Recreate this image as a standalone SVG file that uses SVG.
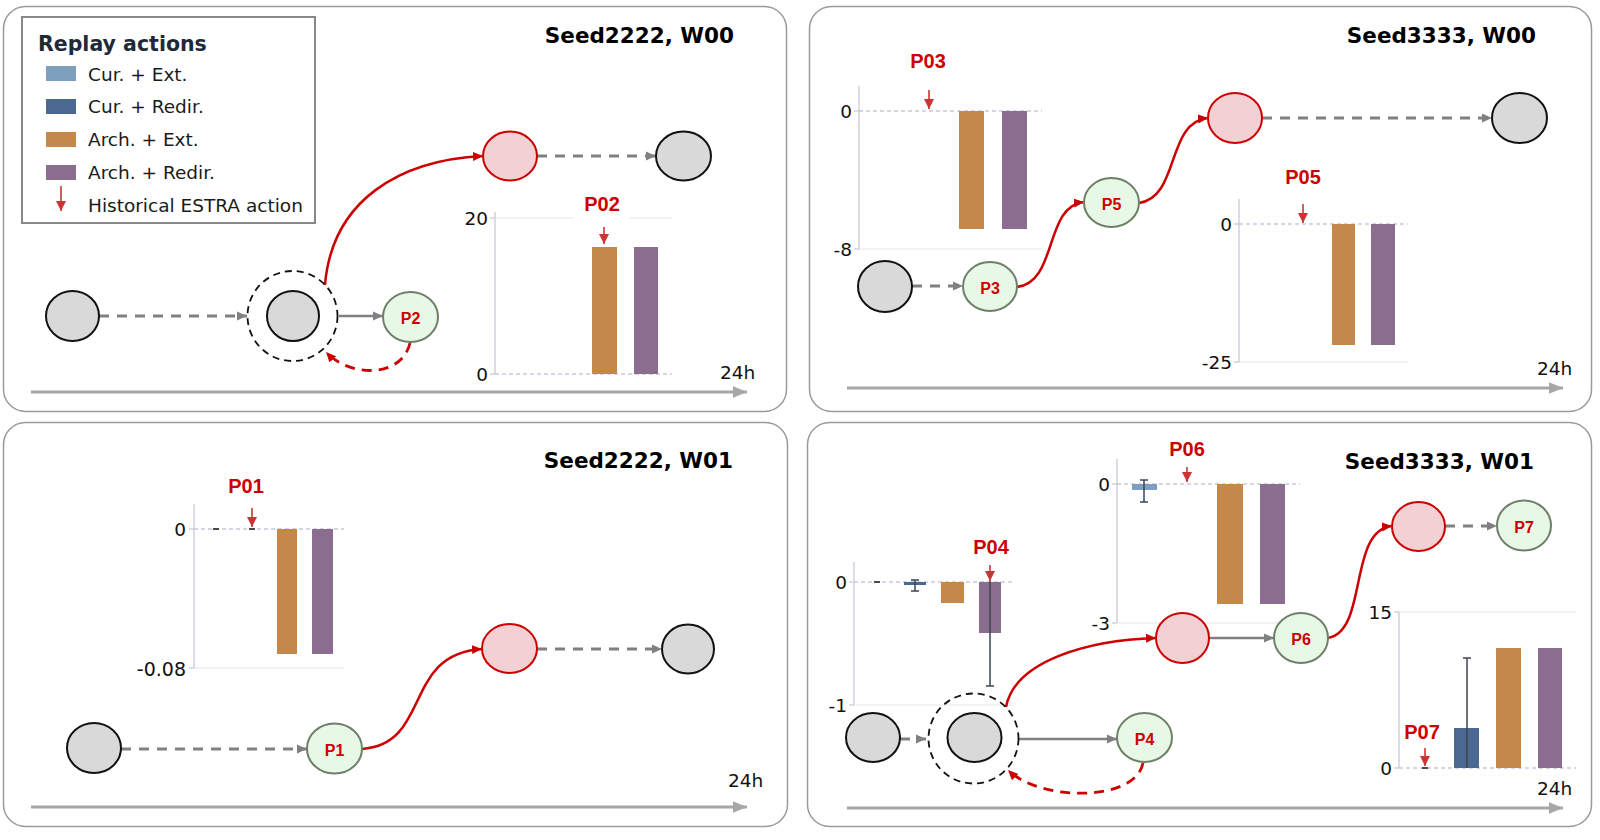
<svg xmlns="http://www.w3.org/2000/svg" width="1600" height="840" viewBox="0 0 1600 840">
<defs>
<style>
.panel{fill:#fff;stroke:#9a9a9a;stroke-width:1.5}
.title{font-family:"DejaVu Sans",sans-serif;font-weight:bold;font-size:21.5px;fill:#000;text-anchor:end}
.leg{font-family:"DejaVu Sans",sans-serif;font-size:18.5px;fill:#1a1a1a}
.tick{font-family:"DejaVu Sans",sans-serif;font-size:18.5px;fill:#111;text-anchor:end}
.h24{font-family:"DejaVu Sans",sans-serif;font-size:18.5px;fill:#111}
.plab{font-family:"Liberation Sans",Arial,sans-serif;font-weight:bold;font-size:20px;fill:#cc0000;text-anchor:middle}
.nlab{font-family:"Liberation Sans",Arial,sans-serif;font-weight:bold;font-size:16px;fill:#cc0000;text-anchor:middle;dominant-baseline:central}
.gray{fill:#d9d9d9;stroke:#111;stroke-width:2}
.pink{fill:#f2d0d4;stroke:#cc0000;stroke-width:2}
.green{fill:#e8f8e6;stroke:#6e8068;stroke-width:2}
.ring{fill:none;stroke:#111;stroke-width:1.8;stroke-dasharray:7 5}
.gdash{fill:none;stroke:#808080;stroke-width:3;stroke-dasharray:10 8}
.gsolid{fill:none;stroke:#808080;stroke-width:2.5}
.red{fill:none;stroke:#cc0000;stroke-width:2.5}
.rdash{fill:none;stroke:#cc0000;stroke-width:2.8;stroke-dasharray:10 7}
.tl{fill:none;stroke:#a6a6a6;stroke-width:3}
.axis{stroke:#c4c6d4;stroke-width:1.2}
.grid{stroke:#e6e8f0;stroke-width:1.2}
.zero{stroke:#a8b0c8;stroke-width:1.2;stroke-dasharray:4 3}
.ce{fill:#7f9fbe}
.cr{fill:#4a6890}
.ae{fill:#c4894a}
.ar{fill:#8b6e8f}
.err{stroke:#3e4650;stroke-width:1.5;fill:none}
.hist{stroke:#cc3333;stroke-width:1.6}
.dash0{stroke:#222;stroke-width:1.6}
</style>
<marker id="ag" viewBox="0 0 10 10" refX="10" refY="5" markerWidth="10" markerHeight="10" markerUnits="userSpaceOnUse" orient="auto"><path d="M0,0.5 L10,5 L0,9.5 z" fill="#808080"/></marker>
<marker id="ar" viewBox="0 0 10 10" refX="10" refY="5" markerWidth="10" markerHeight="10" markerUnits="userSpaceOnUse" orient="auto"><path d="M0,0.5 L10,5 L0,9.5 z" fill="#cc0000"/></marker>
<marker id="at" viewBox="0 0 12 10" refX="12" refY="5" markerWidth="14" markerHeight="12" markerUnits="userSpaceOnUse" orient="auto"><path d="M0,0 L12,5 L0,10 z" fill="#a6a6a6"/></marker>
<marker id="ah" viewBox="0 0 10 10" refX="10" refY="5" markerWidth="10" markerHeight="10" markerUnits="userSpaceOnUse" orient="auto"><path d="M0,0 L10,5 L0,10 z" fill="#cc3333"/></marker>
</defs>

<!-- panels -->
<g id="panels">
<rect class="panel" x="3.5" y="6.5" width="783" height="405" rx="22"/>
<rect class="panel" x="809.5" y="6.5" width="782" height="405" rx="22"/>
<rect class="panel" x="3.5" y="422.5" width="784" height="404" rx="22"/>
<rect class="panel" x="807.5" y="422.5" width="784" height="404" rx="22"/>
</g>

<!-- legend -->
<g id="legend">
<rect x="22" y="17" width="293" height="206" fill="#fff" stroke="#888" stroke-width="2"/>
<text x="38" y="51" style="font-family:'DejaVu Sans',sans-serif;font-weight:bold;font-size:20.5px;fill:#1f2937">Replay actions</text>
<rect class="ce" x="46" y="66" width="30" height="15"/>
<text class="leg" x="88" y="81">Cur. + Ext.</text>
<rect class="cr" x="46" y="99" width="30" height="15"/>
<text class="leg" x="88" y="113">Cur. + Redir.</text>
<rect class="ae" x="46" y="132" width="30" height="15"/>
<text class="leg" x="88" y="146">Arch. + Ext.</text>
<rect class="ar" x="46" y="165" width="30" height="15"/>
<text class="leg" x="88" y="179">Arch. + Redir.</text>
<line class="hist" x1="61" y1="186" x2="61" y2="211" marker-end="url(#ah)"/>
<text class="leg" x="88" y="212">Historical ESTRA action</text>
</g>

<!-- titles -->
<g id="titles">
<text class="title" x="734" y="43">Seed2222, W00</text>
<text class="title" x="1536" y="43">Seed3333, W00</text>
<text class="title" x="733" y="468">Seed2222, W01</text>
<text class="title" x="1534" y="469">Seed3333, W01</text>
</g>

<!-- timelines -->
<g id="timelines">
<line class="tl" x1="31" y1="392" x2="747" y2="392" marker-end="url(#at)"/>
<text class="h24" x="720" y="379">24h</text>
<line class="tl" x1="847" y1="388" x2="1563" y2="388" marker-end="url(#at)"/>
<text class="h24" x="1537" y="375">24h</text>
<line class="tl" x1="31" y1="807" x2="747" y2="807" marker-end="url(#at)"/>
<text class="h24" x="728" y="787">24h</text>
<line class="tl" x1="847" y1="808" x2="1563" y2="808" marker-end="url(#at)"/>
<text class="h24" x="1537" y="795">24h</text>
</g>

<!-- charts -->
<g id="chart-P02">
<line class="grid" x1="495" y1="218" x2="573" y2="218"/>
<line class="grid" x1="630" y1="218" x2="672" y2="218"/>
<line class="zero" x1="495" y1="374" x2="672" y2="374"/>
<line class="axis" x1="495" y1="212" x2="495" y2="374"/>
<line class="axis" x1="490" y1="218" x2="495" y2="218"/>
<line class="axis" x1="490" y1="374" x2="495" y2="374"/>
<text class="tick" x="488" y="225">20</text>
<text class="tick" x="488" y="381">0</text>
<rect class="ae" x="592" y="247" width="25" height="127"/>
<rect class="ar" x="634" y="247" width="24" height="127"/>
<text class="plab" x="602" y="211">P02</text>
<line class="hist" x1="604" y1="227" x2="604" y2="244" marker-end="url(#ah)"/>
</g>

<g id="chart-P03">
<line class="grid" x1="859" y1="249" x2="1042" y2="249"/>
<line class="zero" x1="859" y1="111" x2="1042" y2="111"/>
<line class="axis" x1="859" y1="86" x2="859" y2="249"/>
<line class="axis" x1="854" y1="111" x2="859" y2="111"/>
<line class="axis" x1="854" y1="249" x2="859" y2="249"/>
<text class="tick" x="852" y="118">0</text>
<text class="tick" x="852" y="256">-8</text>
<rect class="ae" x="959" y="111" width="25" height="118"/>
<rect class="ar" x="1002" y="111" width="25" height="118"/>
<text class="plab" x="928" y="68">P03</text>
<line class="hist" x1="929" y1="90" x2="929" y2="109" marker-end="url(#ah)"/>
</g>

<g id="chart-P05">
<line class="grid" x1="1239" y1="362" x2="1408" y2="362"/>
<line class="zero" x1="1239" y1="224" x2="1408" y2="224"/>
<line class="axis" x1="1239" y1="199" x2="1239" y2="362"/>
<line class="axis" x1="1234" y1="224" x2="1239" y2="224"/>
<line class="axis" x1="1234" y1="362" x2="1239" y2="362"/>
<text class="tick" x="1232" y="231">0</text>
<text class="tick" x="1232" y="369">-25</text>
<rect class="ae" x="1332" y="224" width="23" height="121"/>
<rect class="ar" x="1371" y="224" width="24" height="121"/>
<text class="plab" x="1303" y="184">P05</text>
<line class="hist" x1="1303" y1="204" x2="1303" y2="223" marker-end="url(#ah)"/>
</g>

<g id="chart-P01">
<line class="grid" x1="194" y1="668" x2="344" y2="668"/>
<line class="zero" x1="194" y1="529" x2="344" y2="529"/>
<line class="axis" x1="194" y1="504" x2="194" y2="668"/>
<line class="axis" x1="189" y1="529" x2="194" y2="529"/>
<line class="axis" x1="189" y1="668" x2="194" y2="668"/>
<text class="tick" x="186" y="536">0</text>
<text class="tick" x="186" y="676" style="font-size:19px">-0.08</text>
<line class="dash0" x1="213" y1="529" x2="219" y2="529"/>
<line class="dash0" x1="249" y1="529" x2="255" y2="529"/>
<rect class="ae" x="277" y="529" width="20" height="125"/>
<rect class="ar" x="312" y="529" width="21" height="125"/>
<text class="plab" x="246" y="493">P01</text>
<line class="hist" x1="252" y1="508" x2="252" y2="527" marker-end="url(#ah)"/>
</g>

<g id="chart-P04">
<line class="grid" x1="854" y1="705" x2="1013" y2="705"/>
<line class="zero" x1="854" y1="582" x2="1013" y2="582"/>
<line class="axis" x1="854" y1="562" x2="854" y2="705"/>
<line class="axis" x1="849" y1="582" x2="854" y2="582"/>
<line class="axis" x1="849" y1="705" x2="854" y2="705"/>
<text class="tick" x="847" y="589">0</text>
<text class="tick" x="847" y="712">-1</text>
<line class="dash0" x1="874" y1="582" x2="880" y2="582"/>
<rect class="cr" x="904" y="582" width="22" height="3"/>
<path class="err" d="M915 580 V591 M911 580 H919 M911 591 H919"/>
<rect class="ae" x="941" y="582" width="23" height="21"/>
<rect class="ar" x="979" y="582" width="22" height="51"/>
<path class="err" d="M990 581 V686 M986 686 H994"/>
<text class="plab" x="991" y="554">P04</text>
<line class="hist" x1="990" y1="565" x2="990" y2="581" marker-end="url(#ah)"/>
</g>

<g id="chart-P06">
<line class="grid" x1="1117" y1="623" x2="1300" y2="623"/>
<line class="zero" x1="1117" y1="484" x2="1300" y2="484"/>
<line class="axis" x1="1117" y1="459" x2="1117" y2="623"/>
<line class="axis" x1="1112" y1="484" x2="1117" y2="484"/>
<line class="axis" x1="1112" y1="623" x2="1117" y2="623"/>
<text class="tick" x="1110" y="491">0</text>
<text class="tick" x="1110" y="630">-3</text>
<rect class="ce" x="1132" y="484" width="25" height="6"/>
<path class="err" d="M1144 480 V502 M1140 480 H1148 M1140 502 H1148"/>
<rect class="ae" x="1217" y="484" width="26" height="120"/>
<rect class="ar" x="1260" y="484" width="25" height="120"/>
<text class="plab" x="1187" y="456">P06</text>
<line class="hist" x1="1187" y1="467" x2="1187" y2="482" marker-end="url(#ah)"/>
</g>

<g id="chart-P07">
<line class="grid" x1="1399" y1="612" x2="1576" y2="612"/>
<line class="zero" x1="1399" y1="768" x2="1576" y2="768"/>
<line class="axis" x1="1399" y1="612" x2="1399" y2="768"/>
<line class="axis" x1="1394" y1="612" x2="1399" y2="612"/>
<line class="axis" x1="1394" y1="768" x2="1399" y2="768"/>
<text class="tick" x="1392" y="619">15</text>
<text class="tick" x="1392" y="775">0</text>
<line class="dash0" x1="1422" y1="768" x2="1428" y2="768"/>
<rect class="cr" x="1454" y="728" width="25" height="40"/>
<path class="err" d="M1467 658 V768 M1463 658 H1471"/>
<rect class="ae" x="1496" y="648" width="25" height="120"/>
<rect class="ar" x="1538" y="648" width="24" height="120"/>
<text class="plab" x="1422" y="739">P07</text>
<line class="hist" x1="1425" y1="748" x2="1425" y2="766" marker-end="url(#ah)"/>
</g>

<!-- connectors -->
<g id="connectors">
<line class="gdash" x1="99" y1="316" x2="247" y2="316" marker-end="url(#ag)"/>
<line class="gsolid" x1="339" y1="316" x2="383" y2="316" marker-end="url(#ag)"/>
<path class="rdash" d="M410 343 C402 378 350 378 326 352" marker-end="url(#ar)"/>
<path class="red" d="M325 285 C332 200 400 160 483 156" marker-end="url(#ar)"/>
<line class="gdash" x1="537" y1="156" x2="656" y2="156" marker-end="url(#ag)"/>
<line class="gdash" x1="912" y1="286" x2="963" y2="286" marker-end="url(#ag)"/>
<path class="red" d="M1017 287 C1058 282 1044 206 1084 202" marker-end="url(#ar)"/>
<path class="red" d="M1139 203 C1180 197 1166 122 1208 118" marker-end="url(#ar)"/>
<line class="gdash" x1="1262" y1="118" x2="1492" y2="118" marker-end="url(#ag)"/>
<line class="gdash" x1="121" y1="749" x2="307" y2="749" marker-end="url(#ag)"/>
<path class="red" d="M362 749 C432 744 402 654 482 649" marker-end="url(#ar)"/>
<line class="gdash" x1="537" y1="649" x2="662" y2="649" marker-end="url(#ag)"/>
<line class="gdash" x1="900" y1="739" x2="926" y2="739" marker-end="url(#ag)"/>
<line class="gsolid" x1="1019" y1="739" x2="1117" y2="739" marker-end="url(#ag)"/>
<path class="rdash" d="M1143 763 C1136 802 1040 802 1008 770" marker-end="url(#ar)"/>
<path class="red" d="M1006 707 C1015 660 1090 640 1156 638" marker-end="url(#ar)"/>
<line class="gsolid" x1="1209" y1="638" x2="1274" y2="638" marker-end="url(#ag)"/>
<path class="red" d="M1328 638 C1368 632 1348 530 1392 526" marker-end="url(#ar)"/>
<line class="gdash" x1="1445" y1="526" x2="1497" y2="526" marker-end="url(#ag)"/>
</g>

<!-- nodes: Seed2222 W00 -->
<g id="tl-start"><ellipse class="gray" cx="72.5" cy="316" rx="26.5" ry="25"/></g>
<g id="tl-ring"><circle class="ring" cx="292.5" cy="316" r="45"/></g>
<g id="tl-mid"><ellipse class="gray" cx="293" cy="316" rx="26" ry="25"/></g>
<g id="tl-P2"><ellipse class="green" cx="410.5" cy="317" rx="27.5" ry="25"/><text class="nlab" x="410.5" y="318">P2</text></g>
<g id="tl-red"><ellipse class="pink" cx="510" cy="156" rx="27" ry="24.5"/></g>
<g id="tl-end"><ellipse class="gray" cx="683.5" cy="156" rx="27.5" ry="24.5"/></g>

<!-- nodes: Seed3333 W00 -->
<g id="tr-start"><ellipse class="gray" cx="885" cy="286.5" rx="27" ry="25.5"/></g>
<g id="tr-P3"><ellipse class="green" cx="990" cy="286.5" rx="27" ry="24.5"/><text class="nlab" x="990" y="288">P3</text></g>
<g id="tr-P5"><ellipse class="green" cx="1111.5" cy="202.5" rx="27.5" ry="24.5"/><text class="nlab" x="1111.5" y="204">P5</text></g>
<g id="tr-red"><ellipse class="pink" cx="1235" cy="118" rx="27" ry="25"/></g>
<g id="tr-end"><ellipse class="gray" cx="1519.5" cy="118" rx="27.5" ry="25"/></g>

<!-- nodes: Seed2222 W01 -->
<g id="bl-start"><ellipse class="gray" cx="94" cy="748" rx="27" ry="25"/></g>
<g id="bl-P1"><ellipse class="green" cx="334.5" cy="748.5" rx="27.5" ry="25"/><text class="nlab" x="334.5" y="750">P1</text></g>
<g id="bl-red"><ellipse class="pink" cx="509.5" cy="648.5" rx="27.5" ry="24.5"/></g>
<g id="bl-end"><ellipse class="gray" cx="688" cy="649" rx="26" ry="24.5"/></g>

<!-- nodes: Seed3333 W01 -->
<g id="br-start"><ellipse class="gray" cx="873" cy="737.5" rx="27" ry="24.5"/></g>
<g id="br-ring"><circle class="ring" cx="973.5" cy="738.5" r="45"/></g>
<g id="br-mid"><ellipse class="gray" cx="974.5" cy="737.5" rx="27" ry="24.5"/></g>
<g id="br-P4"><ellipse class="green" cx="1144.5" cy="737.5" rx="27.5" ry="24.5"/><text class="nlab" x="1144.5" y="739">P4</text></g>
<g id="br-red1"><ellipse class="pink" cx="1182.5" cy="638" rx="26.5" ry="25"/></g>
<g id="br-P6"><ellipse class="green" cx="1301" cy="638" rx="27" ry="25"/><text class="nlab" x="1301" y="639.5">P6</text></g>
<g id="br-red2"><ellipse class="pink" cx="1418.5" cy="526.5" rx="26.5" ry="24.5"/></g>
<g id="br-P7"><ellipse class="green" cx="1524" cy="525.5" rx="27" ry="25"/><text class="nlab" x="1524" y="527">P7</text></g>
</svg>
